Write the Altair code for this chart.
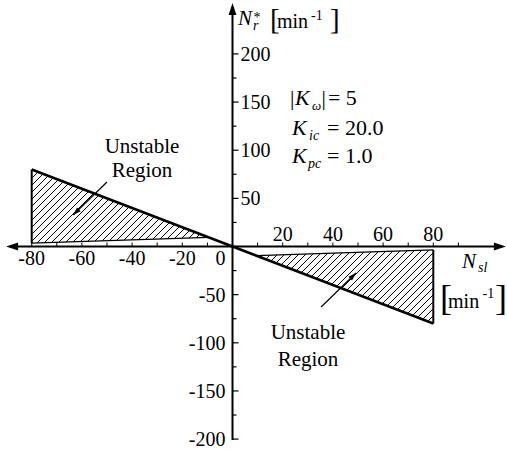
import math
import altair as alt
import pandas as pd

# ---- stability-boundary data -------------------------------------------
# diagonal boundary N_r* = -N_sl
DIAG_X = [-80, 80]
DIAG_Y = [80, -80]
# lower boundary of the left unstable region
LEFT_EDGE_X = [-80, -9.5]
LEFT_EDGE_Y = [3.5, 9.5]
# upper boundary of the right unstable region
RIGHT_EDGE_X = [9.5, 80]
RIGHT_EDGE_Y = [-9.5, -3.5]

# ---- axes ----------------------------------------------------------------
X_TICKS = [-80, -70, -60, -50, -40, -30, -20, -10, 0, 10, 20, 30, 40, 50, 60, 70, 80, 90]
Y_TICKS = [-200, -175, -150, -125, -100, -75, -50, -25, 0, 25, 50, 75, 100, 125, 150, 175, 200]
X_LABELS_ABOVE = [20, 40, 60, 80]
X_LABELS_BELOW = [-80, -60, -40, -20]
Y_LABELS_RIGHT = [50, 100, 150, 200]
Y_LABELS_LEFT = [-50, -100, -150, -200]
X_AXIS_ENDS = [-90.2, 108.9]
Y_AXIS_ENDS = [-201, 252.9]

# annotation arrows: start -> tip
ARROWS = [((-50.0, 67.0), (-63.5, 32.7)), ((35.3, -62.8), (49.2, -27.5))]

# ---- plot frame -------------------------------------------------------------
W, H = 507, 457
X_DOMAIN = [-92.63, 109.36]
Y_DOMAIN = [-218.6, 256.0]
KX = W / (X_DOMAIN[1] - X_DOMAIN[0])
KY = H / (Y_DOMAIN[1] - Y_DOMAIN[0])
FONT = "Liberation Serif"

xs = alt.Scale(domain=X_DOMAIN, nice=False, zero=False)
ys = alt.Scale(domain=Y_DOMAIN, nice=False, zero=False)


def to_px(x, y):
    return ((x - X_DOMAIN[0]) * KX, (Y_DOMAIN[1] - y) * KY)


def to_data(px, py):
    return (X_DOMAIN[0] + px / KX, Y_DOMAIN[1] - py / KY)


def hatch(poly, step=7.0):
    """45-degree '/' hatch segments clipped to a convex polygon."""
    pts = [to_px(*p) for p in poly]
    cs = [px + py for px, py in pts]
    segs = []
    c = math.floor(min(cs) / step) * step + step
    while c < max(cs):
        hits = []
        for i in range(len(pts)):
            (x1, y1), (x2, y2) = pts[i], pts[(i + 1) % len(pts)]
            s1, s2 = x1 + y1 - c, x2 + y2 - c
            if s1 == s2:
                continue
            t = s1 / (s1 - s2)
            if 0 <= t <= 1:
                hits.append((x1 + t * (x2 - x1), y1 + t * (y2 - y1)))
        if len(hits) >= 2:
            hits.sort()
            a, b = hits[0], hits[-1]
            segs.append(to_data(*a) + to_data(*b))
        c += step
    return segs


left_region = [(DIAG_X[0], DIAG_Y[0]), (LEFT_EDGE_X[0], LEFT_EDGE_Y[0]), (LEFT_EDGE_X[1], LEFT_EDGE_Y[1])]
right_region = [(DIAG_X[1], DIAG_Y[1]), (RIGHT_EDGE_X[1], RIGHT_EDGE_Y[1]), (RIGHT_EDGE_X[0], RIGHT_EDGE_Y[0])]
hatch_df = pd.DataFrame(hatch(left_region) + hatch(right_region), columns=["x", "y", "x2", "y2"])

# boundary lines, axis lines and annotation arrow shafts
segments = [
    (DIAG_X[0], DIAG_Y[0], DIAG_X[1], DIAG_Y[1], 2.5),
    (DIAG_X[0], LEFT_EDGE_Y[0], DIAG_X[0], DIAG_Y[0], 2.0),
    (DIAG_X[1], DIAG_Y[1], DIAG_X[1], RIGHT_EDGE_Y[1], 2.0),
    (LEFT_EDGE_X[0], LEFT_EDGE_Y[0], LEFT_EDGE_X[1], LEFT_EDGE_Y[1], 1.3),
    (RIGHT_EDGE_X[0], RIGHT_EDGE_Y[0], RIGHT_EDGE_X[1], RIGHT_EDGE_Y[1], 1.3),
    (X_AXIS_ENDS[0] + 4 / KX, 0, X_AXIS_ENDS[1] - 4 / KX, 0, 2.0),
    (0, Y_AXIS_ENDS[0], 0, Y_AXIS_ENDS[1] - 4 / KY, 2.0),
]
for (x1, y1), (x2, y2) in ARROWS:
    segments.append((x1, y1, x2, y2, 1.2))
seg_df = pd.DataFrame(segments, columns=["x", "y", "x2", "y2", "w"])


def heading(p, q):
    dxp = (q[0] - p[0]) * KX
    dyp = -(q[1] - p[1]) * KY
    return math.degrees(math.atan2(dxp, -dyp)) % 360


heads = [
    (X_AXIS_ENDS[1], 0, 90, 144),
    (X_AXIS_ENDS[0], 0, 270, 144),
    (0, Y_AXIS_ENDS[1], 0, 144),
]
for p, q in ARROWS:
    heads.append((q[0], q[1], heading(p, q), 64))
head_df = pd.DataFrame(heads, columns=["x", "y", "a", "s"])

ARROW_PATH = "M0,0L0.65,2L-0.65,2Z"

xtick_df = pd.DataFrame({"v": X_TICKS, "z": 0})
ytick_df = pd.DataFrame({"v": Y_TICKS, "z": 0, "major": [t % 50 == 0 for t in Y_TICKS]})

hatch_layer = alt.Chart(hatch_df).mark_rule(color="black", strokeWidth=1).encode(
    x=alt.X("x:Q", scale=xs, axis=None), y=alt.Y("y:Q", scale=ys, axis=None), x2="x2", y2="y2"
)
seg_layer = alt.Chart(seg_df).mark_rule(color="black").encode(
    x=alt.X("x:Q", scale=xs, axis=None), y=alt.Y("y:Q", scale=ys, axis=None), x2="x2", y2="y2",
    strokeWidth=alt.StrokeWidth("w:Q", scale=None),
)
head_layer = alt.Chart(head_df).mark_point(
    shape=ARROW_PATH, filled=True, color="black", opacity=1, strokeWidth=0
).encode(
    x=alt.X("x:Q", scale=xs, axis=None), y=alt.Y("y:Q", scale=ys, axis=None),
    angle=alt.Angle("a:Q", scale=None), size=alt.Size("s:Q", scale=None),
)
xtick_layer = alt.Chart(xtick_df).mark_rule(color="black", strokeWidth=1, y2Offset=-4).encode(
    x=alt.X("v:Q", scale=xs, axis=None), y=alt.Y("z:Q", scale=ys, axis=None), y2="z"
)
ytick_major = alt.Chart(ytick_df[ytick_df.major]).mark_rule(color="black", strokeWidth=1.2, x2Offset=6).encode(
    y=alt.Y("v:Q", scale=ys, axis=None), x=alt.X("z:Q", scale=xs, axis=None), x2="z"
)
ytick_minor = alt.Chart(ytick_df[~ytick_df.major]).mark_rule(color="black", strokeWidth=1.2, x2Offset=4).encode(
    y=alt.Y("v:Q", scale=ys, axis=None), x=alt.X("z:Q", scale=xs, axis=None), x2="z"
)


def tick_labels(values, on_x, **style):
    df = pd.DataFrame({"v": values, "z": 0, "t": [str(v) for v in values]})
    if on_x:
        enc = dict(x=alt.X("v:Q", scale=xs, axis=None), y=alt.Y("z:Q", scale=ys, axis=None))
    else:
        enc = dict(y=alt.Y("v:Q", scale=ys, axis=None), x=alt.X("z:Q", scale=xs, axis=None))
    return alt.Chart(df).mark_text(font=FONT, fontSize=20, color="black", baseline="alphabetic", **style).encode(
        text="t:N", **enc
    )


labels = [
    tick_labels(X_LABELS_ABOVE, True, align="center", dy=-6),
    tick_labels(X_LABELS_BELOW, True, align="center", dy=18.5),
    tick_labels([0], True, align="center", dx=-12, dy=18.5),
    tick_labels(Y_LABELS_RIGHT, False, align="left", dx=8, dy=7),
    tick_labels(Y_LABELS_LEFT, False, align="right", dx=-7, dy=7),
]

# text pieces: (text, x, y, font size)
ROMAN_TEXT = [
    ("*", 8.4, 233.6, 14),
    ("[", 14.94, 225.9, 29),
    ("min", 17.73, 226.9, 20),
    ("-1", 31.3, 235.2, 14),
    ("]", 38.84, 225.9, 29),
    ("[", 82.67, -65.9, 36),
    ("min", 85.86, -63.9, 20),
    ("-1", 99.6, -53.5, 14),
    ("]", 104.6, -65.9, 36),
    ("|", 22.91, 146.9, 22),
    ("|", 35.5, 146.9, 22),
    ("= 5", 38.0, 146.9, 22),
    ("= 20.0", 37.65, 115.8, 22),
    ("= 1.0", 37.65, 86.7, 22),
]
ITALIC_TEXT = [
    ("N", 2.19, 230.0, 21),
    ("r", 8.2, 224.8, 14),
    ("N", 91.43, -22.3, 21),
    ("sl", 97.8, -26.5, 14),
    ("K", 24.90, 146.9, 22),
    ("ω", 31.7, 141.7, 13),
    ("K", 23.71, 115.8, 22),
    ("ic", 30.5, 110.6, 14),
    ("K", 23.71, 86.7, 22),
    ("pc", 30.08, 81.5, 14),
]
REGION_TEXT = [
    ("Unstable", -36.06, 97.4, 21),
    ("Region", -36.06, 71.9, 21),
    ("Unstable", 30.08, -96.1, 21),
    ("Region", 30.08, -123.8, 21),
]


def text_layer(rows, **style):
    df = pd.DataFrame(rows, columns=["t", "x", "y", "fs"])
    return alt.Chart(df).mark_text(font=FONT, color="black", baseline="alphabetic", **style).encode(
        x=alt.X("x:Q", scale=xs, axis=None), y=alt.Y("y:Q", scale=ys, axis=None),
        text="t:N", size=alt.Size("fs:Q", scale=None),
    )


texts = [
    text_layer(ROMAN_TEXT, align="left"),
    text_layer(ITALIC_TEXT, align="left", fontStyle="italic"),
    text_layer(REGION_TEXT, align="center"),
]

chart = alt.layer(
    hatch_layer, seg_layer, xtick_layer, ytick_major, ytick_minor, head_layer, *labels, *texts
).properties(
    width=W, height=H, padding=0, autosize="none", background="white"
).configure_view(stroke=None)

chart.save("out.html", embed_options={"renderer": "svg", "actions": False})
